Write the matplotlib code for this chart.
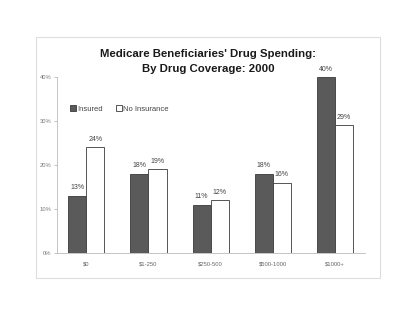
import matplotlib
matplotlib.use("Agg")
import matplotlib.pyplot as plt
from matplotlib.patches import Rectangle
import numpy as np

categories = ["$0", "$1-250", "$250-500", "$500-1000", "$1000+"]
insured = [13, 18, 11, 18, 40]
no_insurance = [24, 19, 12, 16, 29]
yticks = [0, 10, 20, 30, 40]

plt.rcParams['font.family'] = ['Liberation Sans', 'DejaVu Sans']

fig = plt.figure(figsize=(4.0, 3.09), dpi=100)
fig.patch.set_facecolor('white')

# scanned page border
fig.add_artist(Rectangle((36/400, 1-278/309), (380-36)/400, (278-37)/309,
                         transform=fig.transFigure, fill=False,
                         edgecolor='#dddddd', linewidth=0.8, zorder=0))

ax = fig.add_axes([57/400, 1-253/309, (365-57)/400, (253-77)/309])
x = np.arange(len(categories))
w = 0.29
ax.bar(x - w/2, insured, w, color='#5a5a5a', edgecolor='#3a3a3a', linewidth=0.6, label='Insured')
ax.bar(x + w/2, no_insurance, w, color='white', edgecolor='#3a3a3a', linewidth=0.6, label='No Insurance')

for xi, v in zip(x - w/2, insured):
    ax.text(xi, v + 1.0, f"{v}%", ha='center', va='bottom', fontsize=5, color='#444444')
for xi, v in zip(x + w/2, no_insurance):
    ax.text(xi, v + 1.0, f"{v}%", ha='center', va='bottom', fontsize=5, color='#444444')

ax.set_xlim(-0.47, 4.48)
ax.set_ylim(0, 40)
ax.set_yticks(yticks)
ax.set_yticklabels([f"{t}%" for t in yticks], fontsize=4.2, color='#777777')
ax.set_xticks(x)
ax.set_xticklabels(categories, fontsize=4.2, color='#666666')
ax.tick_params(axis='y', length=2, width=0.5, color='#aaaaaa', pad=2)
ax.tick_params(axis='x', length=0, pad=6)
for s in ['top', 'right']:
    ax.spines[s].set_visible(False)
ax.spines['left'].set_color('#bbbbbb')
ax.spines['left'].set_linewidth(0.6)
ax.spines['bottom'].set_color('#bbbbbb')
ax.spines['bottom'].set_linewidth(0.6)

leg = ax.legend(loc='upper left', bbox_to_anchor=(0.03, 0.86), ncol=2, frameon=False,
                fontsize=5.5, handlelength=0.8, handleheight=0.8, handletextpad=0.2,
                columnspacing=1.6, borderpad=0)
for t in leg.get_texts():
    t.set_color('#444444')

fig.text(208/400, 1-54/309, "Medicare Beneficiaries' Drug Spending:", ha='center', va='center',
         fontsize=8.2, fontweight='bold', color='#1a1a1a')
fig.text(208/400, 1-69/309, "By Drug Coverage: 2000", ha='center', va='center',
         fontsize=8.2, fontweight='bold', color='#1a1a1a')

fig.savefig("out.png", dpi=100, facecolor='white')
